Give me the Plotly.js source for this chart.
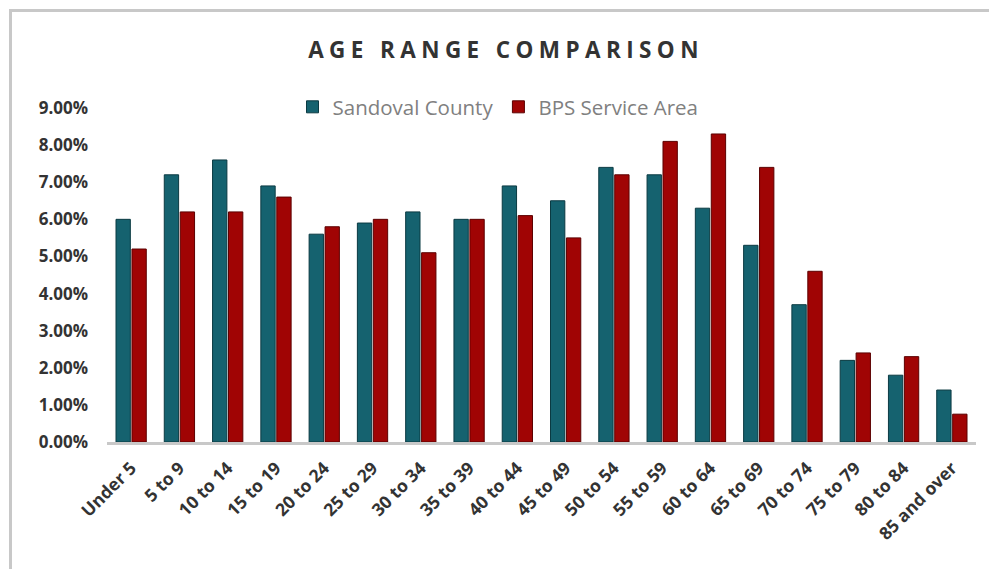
<!DOCTYPE html>
<html>
<head>
<meta charset="utf-8">
<script src="https://cdn.plot.ly/plotly-3.0.1.min.js"></script>
<style>
  html, body { margin: 0; padding: 0; background: #ffffff; }
  #wrap { position: relative; width: 989px; height: 569px; overflow: hidden; }
  #chart { position: absolute; left: 0; top: 0; width: 989px; height: 569px; }
  #frame { position: absolute; left: 9px; top: 9px; width: 990px; height: 570px;
           border-top: 3px solid #c8c8c8; border-left: 3px solid #c8c8c8;
           box-sizing: border-box; pointer-events: none; }
  .gtitle { letter-spacing: 5.4px; }
</style>
</head>
<body>
<div id="wrap">
  <div id="chart"></div>
  <div id="frame"></div>
</div>
<script>
// Age groups on the horizontal axis
const ageGroups = ["Under 5", "5 to 9", "10 to 14", "15 to 19", "20 to 24", "25 to 29",
  "30 to 34", "35 to 39", "40 to 44", "45 to 49", "50 to 54", "55 to 59",
  "60 to 64", "65 to 69", "70 to 74", "75 to 79", "80 to 84", "85 and over"];

// Share of population in each age group (percent)
const sandovalCounty = [6.0, 7.2, 7.6, 6.9, 5.6, 5.9, 6.2, 6.0, 6.9, 6.5,
  7.4, 7.2, 6.3, 5.3, 3.7, 2.2, 1.8, 1.4];
const bpsServiceArea = [5.2, 6.2, 6.2, 6.6, 5.8, 6.0, 5.1, 6.0, 6.1, 5.5,
  7.2, 8.1, 8.3, 7.4, 4.6, 2.4, 2.3, 0.75];

// Y axis tick values and labels
const yTickVals = [0, 1, 2, 3, 4, 5, 6, 7, 8, 9];
const yTickText = ["0.00%", "1.00%", "2.00%", "3.00%", "4.00%", "5.00%",
  "6.00%", "7.00%", "8.00%", "9.00%"];

const FONT = "'Open Sans', 'DejaVu Sans', sans-serif";

const traces = [
  {
    type: "bar",
    name: "Sandoval County",
    x: ageGroups,
    y: sandovalCounty,
    marker: { color: "#15626f", line: { color: "#0b3a42", width: 1 } },
    hoverinfo: "x+y"
  },
  {
    type: "bar",
    name: "BPS Service Area",
    x: ageGroups,
    y: bpsServiceArea,
    marker: { color: "#a00404", line: { color: "#5c0000", width: 1 } },
    hoverinfo: "x+y"
  }
];

const layout = {
  width: 989,
  height: 569,
  paper_bgcolor: "#ffffff",
  plot_bgcolor: "#ffffff",
  margin: { l: 107, r: 13, t: 108, b: 127, autoexpand: false },
  barmode: "group",
  bargap: 0.34,
  bargroupgap: 0.1,
  title: {
    text: "AGE RANGE COMPARISON",
    font: { family: FONT, size: 22.5, color: "#333333", weight: "bold" },
    x: 506 / 989,
    xanchor: "center",
    xref: "container",
    y: 1 - 50 / 569,
    yanchor: "middle",
    yref: "container"
  },
  showlegend: true,
  legend: {
    orientation: "h",
    x: 498 / 989,
    xanchor: "center",
    xref: "container",
    y: 1 - 107 / 569,
    yref: "container",
    yanchor: "middle",
    font: { family: FONT, size: 20.5, color: "#808080" },
    itemwidth: 30,
    bgcolor: "rgba(0,0,0,0)"
  },
  xaxis: {
    type: "category",
    tickangle: -45,
    tickfont: { family: FONT, size: 17.5, color: "#333333", weight: "bold" },
    showgrid: false,
    showline: true,
    linecolor: "#c8c8c8",
    linewidth: 3,
    ticks: "",
    ticklabelstandoff: 6,
    zeroline: false,
    automargin: false,
    fixedrange: true
  },
  yaxis: {
    range: [0, 9],
    tickvals: yTickVals,
    ticktext: yTickText,
    tickfont: { family: FONT, size: 17, color: "#333333", weight: "bold" },
    showgrid: false,
    zeroline: false,
    showline: false,
    ticks: "",
    ticklabelstandoff: 18,
    automargin: false,
    fixedrange: true
  },
  font: { family: FONT }
};

Plotly.newPlot("chart", traces, layout, { displayModeBar: false, staticPlot: true });
</script>
</body>
</html>
